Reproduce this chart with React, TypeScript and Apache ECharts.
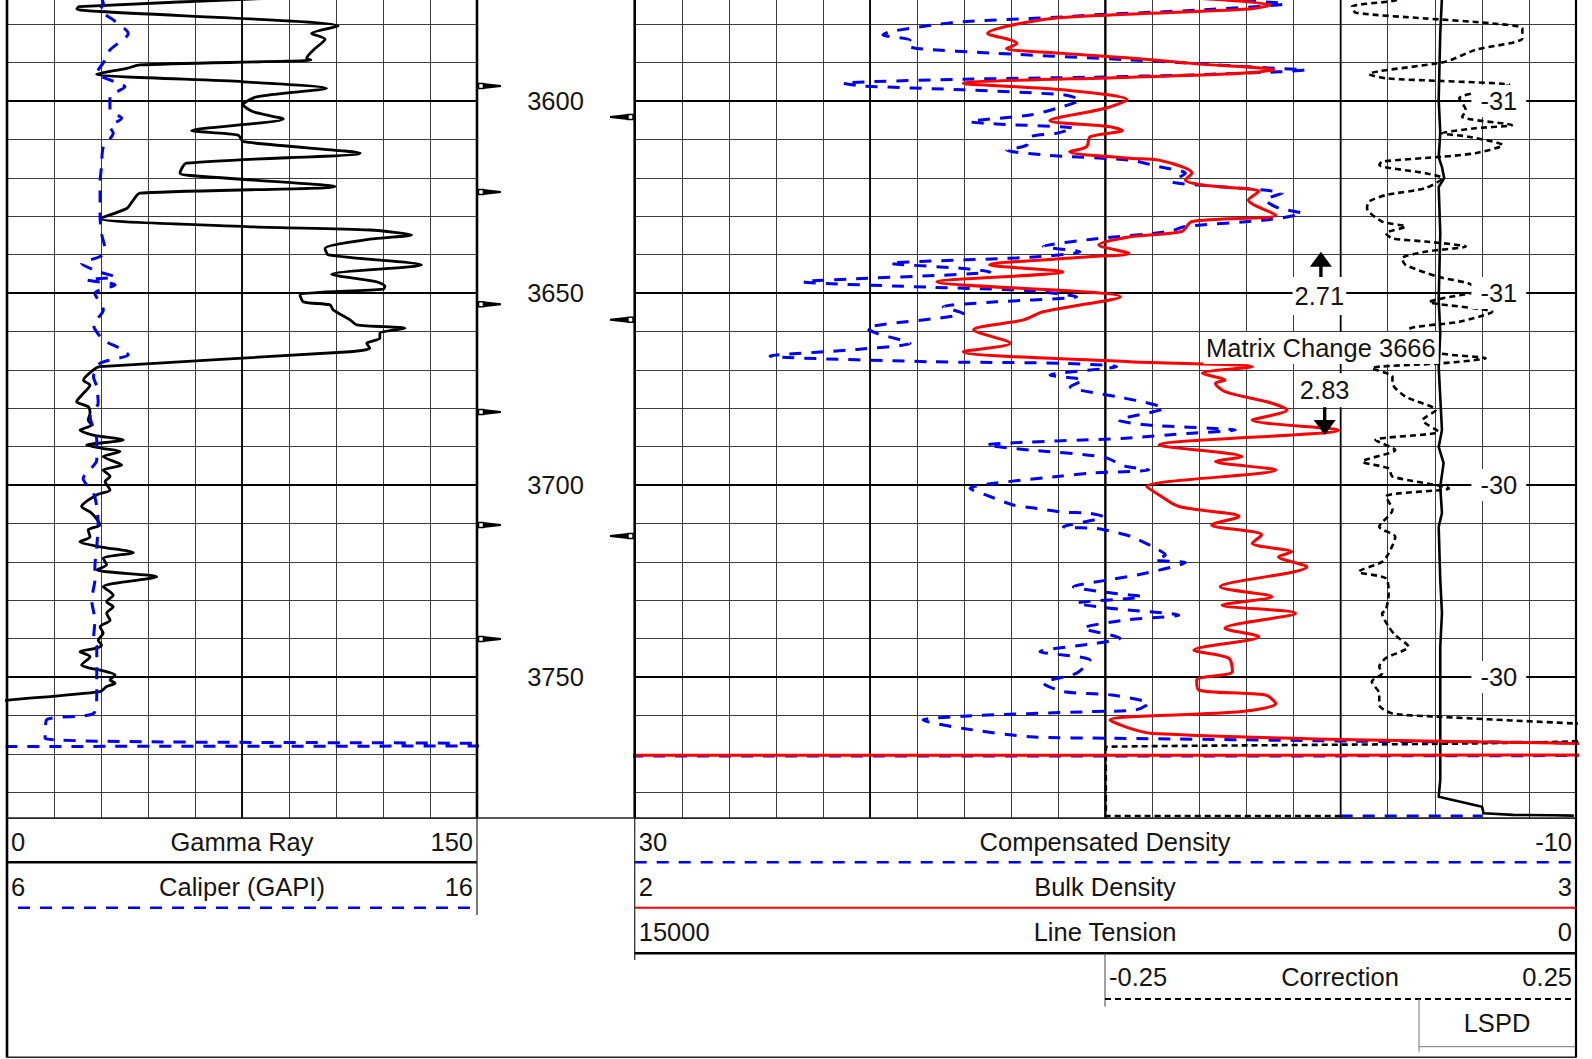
import React, { useEffect, useRef } from "react";
import * as echarts from "echarts";

// ---------- depth scale ----------
const depthMin = 3570;
const depthMax = 3786.72;
const depthStep = 10;
const depthMajor = [3600, 3650, 3700, 3750];
const depthLabels = ["3600", "3650", "3700", "3750"];
const leftTickDepths = [3596.1, 3623.7, 3652.9, 3681.0, 3710.4, 3740.1];
const rightTickDepths = [3604.2, 3657.0, 3713.3];

// ---------- curves: [depth, value] ----------
const gammaRay = [
  [3573.0, 92], [3575.4, 23], [3576.1, 22.3], [3576.7, 29.7], [3580.5, 105.7], [3582.4, 97.2], [3583.9, 101.5],
  [3586.7, 97.8], [3588.9, 95.6], [3589.3, 97], [3590.6, 42.4], [3591.5, 38.2], [3593.0, 28.6], [3595.0, 75.4],
  [3596.7, 102], [3598.9, 79.7], [3601.0, 75.4], [3602.8, 78.6], [3604.7, 88.2], [3607.7, 58.9], [3608.9, 73.8],
  [3610.6, 75.4], [3613.6, 112.7], [3616.2, 57.3], [3618.8, 55.2], [3619.4, 58.4], [3622.3, 104.7], [3624.0, 42.4],
  [3625.8, 40.3], [3628.0, 38.2], [3630.6, 29.7], [3632.7, 76.5], [3633.6, 115.8], [3634.9, 129.1], [3636.0, 115.8],
  [3638.4, 101.5], [3640.1, 102.6], [3642.7, 132.3], [3645.1, 103.6], [3647.1, 118], [3648.2, 120.6], [3649.0, 120.1],
  [3650.5, 93.5], [3652.3, 94.6], [3653.1, 103.1], [3654.4, 104.1], [3657.0, 109.5], [3658.3, 111.6], [3659.2, 127],
  [3660.5, 119], [3661.8, 119], [3663.1, 114.8], [3664.4, 115.8], [3665.3, 109.5], [3669.2, 29.7], [3670.1, 27.5],
  [3672.7, 24.4], [3674.0, 26.5], [3676.1, 24.4], [3678.3, 22.2], [3679.6, 25.9], [3681.3, 26.5], [3683.1, 25.9],
  [3684.4, 27], [3685.7, 23.3], [3687.0, 27.5], [3688.3, 37.1], [3689.6, 25.4], [3690.5, 30.7], [3691.3, 36.1],
  [3692.6, 30.7], [3694.8, 36.6], [3696.1, 30.7], [3697.8, 32.9], [3699.1, 31.3], [3701.3, 32.9], [3702.6, 28.6],
  [3705.6, 23.8], [3707.0, 26.5], [3708.3, 28.1], [3710.4, 29.7], [3711.7, 25.9], [3713.5, 26.5], [3714.8, 23.3],
  [3716.1, 29.7], [3717.6, 40.3], [3719.1, 30.7], [3720.8, 31.8], [3722.1, 28.6], [3723.9, 47.8], [3726.5, 30.7],
  [3728.7, 33.9], [3730.4, 31.8], [3731.7, 33.9], [3733.4, 31.8], [3735.2, 32.9], [3736.9, 29.7], [3738.6, 30.7],
  [3740.4, 29.1], [3741.7, 30.2], [3742.5, 28.6], [3743.4, 23.3], [3744.7, 26.5], [3746.9, 23.8], [3747.7, 26.5],
  [3748.2, 29.7], [3749.5, 34.5], [3750.8, 32.9], [3751.6, 34.5], [3752.5, 31.8], [3753.8, 29.7], [3756.0, 0.4],
  [3756.3, -3],
];

const caliper = [
  [3573.0, 8.0], [3574.6, 8.05], [3576.3, 7.98], [3578.9, 8.26], [3582.4, 8.58], [3586.7, 8.19], [3589.3, 8.09],
  [3592.8, 7.91], [3594.5, 8.19], [3596.3, 8.51], [3598.9, 8.19], [3602.3, 8.19], [3604.5, 8.44], [3606.7, 8.19],
  [3608.4, 8.26], [3611.9, 8.05], [3617.1, 8.01], [3621.4, 7.98], [3625.8, 7.98], [3630.1, 7.98], [3634.5, 8.01],
  [3638.8, 8.09], [3640.5, 7.98], [3642.3, 7.59], [3644.4, 7.94], [3645.8, 8.30], [3646.6, 7.70], [3647.9, 8.30],
  [3650.1, 7.87], [3654.4, 8.05], [3658.3, 7.84], [3662.2, 8.05], [3664.4, 8.40], [3666.1, 8.58], [3668.3, 7.98],
  [3671.8, 7.84], [3674.4, 7.91], [3678.7, 7.94], [3682.2, 7.77], [3688.3, 7.91], [3693.5, 7.91], [3698.3, 7.62],
  [3702.2, 7.84], [3705.6, 7.91], [3710.0, 7.94], [3716.1, 7.91], [3721.3, 7.87], [3724.7, 7.87], [3729.9, 7.80],
  [3735.2, 7.87], [3740.4, 7.84], [3742.1, 7.91], [3749.0, 7.91], [3754.3, 7.91], [3759.5, 7.84], [3761.2, 6.84],
  [3766.0, 6.81], [3767.3, 16.05], [3767.6, 17], [3767.9, 17], [3768.1, 6.06], [3768.2, 5],
];

const compDensity = [
  [3573.2, 5.98], [3574.7, 2.37], [3576.3, 5.98], [3577.6, 10.57], [3578.1, 11.8], [3579.35, 16.05], [3580.2, 17.32],
  [3581.95, 19.15], [3582.8, 19.45], [3584.1, 18.3], [3585.4, 18.44], [3586.3, 18.02], [3587.6, 14.62], [3589.3, 8.95],
  [3590.2, 6.32], [3591.5, 2.78], [3591.9, 1.5], [3592.4, 2.63], [3593.2, 6.32], [3593.8, 10.57], [3594.35, 16.04],
  [3595.4, 21.14], [3596.1, 20.29], [3597.1, 16.04], [3598.4, 11.79], [3599.7, 11.08], [3601.9, 12.07], [3603.65, 13.2],
  [3605.4, 15.75], [3606.0, 14.62], [3607.1, 11.36], [3608.4, 12.07], [3609.3, 13.2], [3611.5, 13.34], [3612.8, 14.19],
  [3614.1, 12.49], [3615.4, 8.95], [3617.1, 7.73], [3618.8, 6.6], [3621.0, 7.17], [3621.9, 6.03], [3624.0, 2.49],
  [3625.8, 3.2], [3627.9, 2.63], [3629.25, 1.64], [3631.0, 3.2], [3632.7, 6.6], [3634.0, 7.31], [3636.0, 10.57],
  [3637.9, 12.64], [3639.25, 11.08], [3640.7, 13.2], [3642.3, 19.15], [3643.6, 16.04], [3644.5, 14.9], [3647.1, 22.84],
  [3648.5, 17.45], [3649.4, 13.2], [3651.0, 11.22], [3652.3, 14.62], [3653.6, 16.89], [3655.3, 16.04], [3659.2, 20.14],
  [3660.5, 19.72], [3663.1, 18.3], [3664.7, 20.57], [3666.4, 24.25], [3667.9, 17.45], [3668.3, 11.79], [3669.2, 9.52],
  [3671.4, 12.35], [3672.7, 10.94], [3674.4, 11.5], [3677.0, 9.5], [3678.3, 8.44], [3680.0, 7.52], [3683.1, 9.43],
  [3684.4, 8.16], [3685.7, 4.48], [3686.5, 6.32], [3687.8, 9.15], [3689.6, 15.04], [3690.9, 13.2], [3692.7, 10.1],
  [3695.1, 9.16], [3696.1, 8.15], [3696.9, 10.57], [3697.7, 11.93], [3700.9, 15.75], [3703.0, 14.9], [3705.2, 13.92],
  [3706.1, 12.92], [3707.0, 11.93], [3707.4, 10.65], [3708.3, 10.09], [3710.9, 11.79], [3711.3, 10.37], [3712.2, 9.66],
  [3713.5, 8.87], [3716.9, 7.73], [3718.2, 7.45], [3719.5, 7.88], [3720.2, 6.6], [3723.0, 8.3], [3724.7, 9.86],
  [3726.5, 11.36], [3728.2, 9.66], [3729.1, 8.44], [3730.8, 11.22], [3732.1, 9.8], [3733.9, 6.88], [3735.2, 9.15],
  [3737.3, 10.94], [3739.9, 9.38], [3741.2, 10.37], [3743.4, 12.78], [3745.6, 10.65], [3749.0, 11.22], [3751.6, 12.64],
  [3753.8, 11.79], [3754.7, 9.72], [3756.9, 8.16], [3758.6, 8.73], [3759.0, 10.57], [3760.2, 16.04], [3761.2, 17.74],
  [3763.4, 16.04], [3765.55, 13.2], [3765.95, 9.66], [3766.7, -0.4], [3767.7, -11], [3770.4, -11], [3770.6, 31.5],
];
const compDensityEnd = [[3786.2, 0], [3786.2, -6]];

const bulkDensity = [
  [3573.0, 2.58], [3575.0, 2.675], [3576.04, 2.653], [3577.6, 2.505], [3578.9, 2.431], [3582.4, 2.375], [3584.1, 2.399],
  [3585.0, 2.406], [3586.3, 2.395], [3587.6, 2.455], [3588.8, 2.526], [3590.4, 2.601], [3591.9, 2.679], [3593.0, 2.627],
  [3593.8, 2.526], [3595.4, 2.349], [3597.1, 2.455], [3599.7, 2.523], [3601.9, 2.5], [3605.1, 2.441], [3606.7, 2.505],
  [3607.7, 2.518], [3609.3, 2.484], [3611.9, 2.48], [3613.2, 2.462], [3614.9, 2.526], [3615.4, 2.557], [3618.8, 2.592],
  [3620.6, 2.585], [3621.9, 2.603], [3623.6, 2.663], [3625.8, 2.652], [3629.7, 2.681], [3631.4, 2.592], [3634.0, 2.581],
  [3635.3, 2.528], [3637.5, 2.493], [3639.7, 2.525], [3640.5, 2.486], [3642.7, 2.377], [3644.5, 2.455], [3647.1, 2.321],
  [3651.0, 2.516], [3654.9, 2.434], [3657.0, 2.413], [3659.6, 2.36], [3663.1, 2.399], [3665.3, 2.349], [3667.9, 2.526],
  [3669.2, 2.656], [3670.9, 2.603], [3672.7, 2.627], [3673.5, 2.617], [3675.7, 2.627], [3678.7, 2.677], [3680.5, 2.693],
  [3683.1, 2.656], [3685.7, 2.748], [3689.6, 2.557], [3692.6, 2.645], [3693.9, 2.617], [3696.1, 2.681], [3700.4, 2.544],
  [3702.6, 2.557], [3705.6, 2.578], [3708.2, 2.642], [3710.4, 2.613], [3713.0, 2.666], [3715.2, 2.656], [3717.4, 2.698],
  [3718.7, 2.684], [3721.3, 2.714], [3726.5, 2.622], [3729.1, 2.677], [3731.3, 2.624], [3733.4, 2.702], [3737.3, 2.627],
  [3739.5, 2.663], [3743.0, 2.594], [3745.1, 2.631], [3748.6, 2.635], [3750.8, 2.597], [3753.4, 2.599], [3754.7, 2.67],
  [3756.9, 2.681], [3759.0, 2.645], [3761.2, 2.505], [3764.7, 2.55], [3767.3, 3.0], [3768.0, 3.3], [3770.3, 3.3],
  [3770.4, 1.5],
];

const lineTension = [
  [3573.0, 2136], [3582.3, 2163], [3599.7, 2188], [3608.3, 2163], [3614.6, 2188], [3617.2, 2136], [3620.1, 2100],
  [3622.4, 2188], [3634.4, 2163], [3651.8, 2188], [3660.4, 2163], [3669.3, 2188], [3685.7, 2136], [3690.1, 2188],
  [3694.3, 2110], [3700.5, 2163], [3707.3, 2136], [3710.9, 2188], [3724.7, 2163], [3733.3, 2136], [3742.2, 2163],
  [3759.4, 2163], [3768.2, 2163], [3776.8, 2163], [3781.2, 2188], [3783.8, 1498], [3785.5, 1471], [3785.9, 1000],
  [3786.0, 370], [3786.1, 50],
];

const correction = [
  [3573.0, 0.07], [3573.96, 0.055], [3575.45, 0.012], [3577.0, 0.016], [3578.5, 0.09], [3579.8, 0.161], [3581.1, 0.193],
  [3583.7, 0.193], [3586.7, 0.143], [3589.8, 0.111], [3593.0, 0.03], [3594.1, 0.048], [3594.8, 0.108], [3595.8, 0.179],
  [3597.5, 0.15], [3599.3, 0.126], [3602.35, 0.133], [3604.1, 0.129], [3606.3, 0.182], [3607.1, 0.143], [3608.4, 0.108],
  [3609.3, 0.136], [3611.5, 0.172], [3613.6, 0.143], [3614.5, 0.108], [3615.8, 0.044], [3616.7, 0.041], [3618.8, 0.09],
  [3620.1, 0.108], [3622.7, 0.09], [3624.5, 0.048], [3626.2, 0.03], [3627.9, 0.028], [3631.4, 0.044], [3632.7, 0.069],
  [3634.45, 0.048], [3635.8, 0.055], [3636.6, 0.09], [3637.9, 0.133], [3639.25, 0.09], [3641.0, 0.065], [3642.7, 0.069],
  [3645.8, 0.104], [3647.5, 0.136], [3649.2, 0.148], [3651.4, 0.108], [3652.3, 0.094], [3654.9, 0.161], [3657.5, 0.126],
  [3659.6, 0.072], [3664.0, 0.09], [3665.7, 0.104], [3667.0, 0.154], [3668.3, 0.108], [3669.6, 0.033], [3671.8, 0.055],
  [3673.5, 0.055], [3677.0, 0.069], [3680.5, 0.101], [3683.1, 0.087], [3686.1, 0.104], [3688.3, 0.037], [3690.9, 0.058],
  [3693.9, 0.023], [3695.7, 0.051], [3697.8, 0.055], [3700.9, 0.115], [3703.0, 0.048], [3706.5, 0.055], [3710.9, 0.041],
  [3713.5, 0.058], [3717.8, 0.051], [3720.0, 0.044], [3722.6, 0.019], [3724.3, 0.048], [3728.2, 0.051], [3732.6, 0.048],
  [3733.4, 0.044], [3736.9, 0.051], [3739.1, 0.058], [3742.1, 0.072], [3745.1, 0.048], [3747.3, 0.041], [3749.0, 0.044],
  [3751.2, 0.033], [3754.3, 0.041], [3757.3, 0.041], [3759.5, 0.055], [3760.3, 0.101], [3762.1, 0.249], [3762.25, 0.275],
  [3766.15, 0.275], [3768.15, -0.246], [3768.2, -0.2495], [3786.2, -0.2495], [3786.2, 0.0],
];

// LSPD readings printed on the log
const lspdDepths = [3600, 3650, 3700, 3750];
const lspdTexts = ["-31", "-31", "-30", "-30"];
const lspdCorrPos = 0.168;

// annotations (bulk density axis / depth)
const matrixNote = { text: "Matrix Change 3666", bd: 2.729, depth: 3664.3 };
const upArrow = { bd: 2.729, tail: 3647.1, tip: 3639.25, label: "2.71", labelDepth: 3650.8 };
const downArrow = { bd: 2.733, tail: 3679.2, tip: 3687.0, label: "2.83", labelDepth: 3675.3 };

// header texts
const grHeader = ["0", "Gamma Ray", "150"];
const calHeader = ["6", "Caliper (GAPI)", "16"];
const cdHeader = ["30", "Compensated Density", "-10"];
const bdHeader = ["2", "Bulk Density", "3"];
const ltHeader = ["15000", "Line Tension", "0"];
const corrHeader = ["-0.25", "Correction", "0.25"];
const lspdHeader = "LSPD";

// ---------- layout ----------
const FONT = '"Liberation Sans", Arial, Helvetica, sans-serif';
const FS = 25.5;
const TXT = "#151515";
const LX0 = 7, LX1 = 477, RX0 = 634.7, RX1 = 1576, MX = 1105;
const PLOT_TOP = -14.21, PLOT_BOTTOM = 818;
const BLUE = "#0000ff", RED = "#ff0000";

const xy = (arr: number[][]) => arr.map(([d, v]) => [v, d]);

const App = () => {
  const ref = useRef<HTMLDivElement>(null);
  useEffect(() => {
    if (!ref.current) return;
    const chart = echarts.init(ref.current, null, { renderer: "svg" });
    const hide = { axisLine: { show: false }, axisTick: { show: false }, axisLabel: { show: false } };
    const thin = { show: true, lineStyle: { color: "#3c3c3c", width: 1 } };
    const noSplit = { show: false };
    const depthAxis = (gi: number) => ({
      gridIndex: gi, type: "value", min: depthMin, max: depthMax, interval: depthStep, inverse: true,
      splitLine: thin, ...hide,
    });
    const lineS = (name: string, xi: number, yi: number, data: number[][], style: any, z = 3, smooth: any = false) => ({
      name, type: "line", xAxisIndex: xi, yAxisIndex: yi, data: xy(data), symbol: "none", showSymbol: false,
      clip: true, z, smooth, lineStyle: { cap: "round", join: "round", ...style }, emphasis: { disabled: true }, silent: true,
    });
    chart.setOption({
      animation: false,
      backgroundColor: "#fff",
      grid: [
        { left: LX0, top: PLOT_TOP, width: LX1 - LX0, height: PLOT_BOTTOM - PLOT_TOP, containLabel: false, outerBoundsMode: "none" },
        { left: RX0, top: PLOT_TOP, width: RX1 - RX0, height: PLOT_BOTTOM - PLOT_TOP, containLabel: false, outerBoundsMode: "none" },
      ],
      xAxis: [
        { gridIndex: 0, type: "value", min: 0, max: 150, interval: 15, splitLine: thin, ...hide },
        { gridIndex: 0, type: "value", min: 6, max: 16, splitLine: noSplit, ...hide },
        { gridIndex: 1, type: "value", min: -10, max: 30, interval: 2, inverse: true, splitLine: thin, ...hide },
        { gridIndex: 1, type: "value", min: 2, max: 3, splitLine: noSplit, ...hide },
        { gridIndex: 1, type: "value", min: 0, max: 15000, inverse: true, splitLine: noSplit, ...hide },
        { gridIndex: 1, type: "value", min: -0.75, max: 0.25, splitLine: noSplit, ...hide },
      ],
      yAxis: [depthAxis(0), depthAxis(1)],
      series: [
        lineS("Gamma Ray", 0, 0, gammaRay, { color: "#000", width: 2.8 }, 3, 0.25),
        lineS("Caliper", 1, 0, caliper, { color: BLUE, width: 3, type: [12, 10], cap: "butt" }, 3, 0.25),
        lineS("Compensated Density", 2, 1, compDensity, { color: BLUE, width: 3, type: [12, 10], cap: "butt" }, 3, 0.25),
        lineS("Compensated Density end", 2, 1, compDensityEnd, { color: BLUE, width: 3, type: [12, 10], cap: "butt" }),
        lineS("Bulk Density", 3, 1, bulkDensity, { color: RED, width: 3 }, 4, 0.3),
        lineS("Correction", 5, 1, correction, { color: "#000", width: 2.6, type: [6, 4], cap: "butt" }, 3, 0.25),
        lineS("Line Tension", 4, 1, lineTension, { color: "#000", width: 2.6 }),
      ],
    });

    const yPx = (d: number) => chart.convertToPixel({ yAxisIndex: 0 }, d) as number;
    const xPx = (ai: number, v: number) => chart.convertToPixel({ xAxisIndex: ai }, v) as number;
    const g: any[] = [];
    const line = (x1: number, y1: number, x2: number, y2: number, stroke: string, lineWidth: number, z = 1, lineDash?: number[]) =>
      g.push({ type: "line", silent: true, z, shape: { x1, y1, x2, y2 }, style: { stroke, lineWidth, lineDash } });
    const text = (t: string, x: number, y: number, align: string, z = 6, extra: any = {}) =>
      g.push({
        type: "text", silent: true, z, x, y,
        style: { text: t, fill: TXT, fontSize: FS, fontFamily: FONT, textAlign: align, textVerticalAlign: "middle", align, verticalAlign: "middle", ...extra },
      });

    // heavy depth lines every 50
    depthMajor.forEach((d) => {
      const y = yPx(d);
      line(LX0, y, LX1, y, "#000", 2);
      line(RX0, y, RX1, y, "#000", 2);
    });
    // medium / heavy vertical grid lines
    line(xPx(0, 75), 0, xPx(0, 75), PLOT_BOTTOM, "#000", 1.8);
    [20, 0].forEach((v) => line(xPx(2, v), 0, xPx(2, v), PLOT_BOTTOM, "#000", 1.8));
    line(xPx(2, 10), 0, xPx(2, 10), PLOT_BOTTOM, "#000", 2.4);

    // track borders / frame
    line(LX0, 0, LX0, 1057.5, "#000", 2.6, 7);
    line(LX1, 0, LX1, PLOT_BOTTOM, "#000", 2.6, 7);
    line(RX0, 0, RX0, PLOT_BOTTOM, "#000", 2.6, 7);
    line(RX1, 0, RX1, 1057.5, "#000", 2.2, 7);
    line(LX0, PLOT_BOTTOM, RX1, PLOT_BOTTOM, "#222", 1.4, 7);
    line(LX0, 1057.3, RX1, 1057.3, "#222", 1.6, 7);

    // depth labels
    depthMajor.forEach((d, i) => text(depthLabels[i], 555.5, yPx(d), "center", 5));
    // depth ticks
    leftTickDepths.forEach((d) => {
      const y = yPx(d);
      g.push({ type: "polygon", silent: true, z: 5, shape: { points: [[483, y - 3], [501, y - 1], [501, y + 1], [483, y + 3]] }, style: { fill: "#000" } });
      g.push({ type: "rect", silent: true, z: 6, shape: { x: 478.5, y: y - 2.5, width: 5, height: 5 }, style: { fill: "#fff", stroke: "#000", lineWidth: 1.5 } });
    });
    rightTickDepths.forEach((d) => {
      const y = yPx(d);
      g.push({ type: "polygon", silent: true, z: 5, shape: { points: [[610, y - 1], [628, y - 3], [628, y + 3], [610, y + 1]] }, style: { fill: "#000" } });
      g.push({ type: "rect", silent: true, z: 6, shape: { x: 628, y: y - 2.5, width: 5, height: 5 }, style: { fill: "#fff", stroke: "#000", lineWidth: 1.5 } });
    });

    // LSPD readings
    lspdDepths.forEach((d, i) =>
      text(lspdTexts[i], xPx(5, lspdCorrPos), yPx(d), "center", 10, { backgroundColor: "#fff", padding: [3, 9] })
    );

    // annotations
    text(matrixNote.text, xPx(3, matrixNote.bd), yPx(matrixNote.depth), "center", 10, { backgroundColor: "#fff", padding: [3, 3] });
    {
      const x = xPx(3, upArrow.bd), yt = yPx(upArrow.tip), yb = yPx(upArrow.tail);
      line(x, yb, x, yt + 12, "#000", 3.4, 10);
      g.push({ type: "polygon", silent: true, z: 10, shape: { points: [[x - 11, yt + 15], [x + 11, yt + 15], [x, yt]] }, style: { fill: "#000" } });
      text(upArrow.label, x - 1.5, yPx(upArrow.labelDepth), "center", 10, { backgroundColor: "#fff", padding: [6, 2] });
    }
    {
      const x = xPx(3, downArrow.bd), yt = yPx(downArrow.tip), yb = yPx(downArrow.tail);
      line(x, yb, x, yt - 12, "#000", 3.4, 10);
      g.push({ type: "polygon", silent: true, z: 10, shape: { points: [[x - 11, yt - 15], [x + 11, yt - 15], [x, yt]] }, style: { fill: "#000" } });
      text(downArrow.label, x, yPx(downArrow.labelDepth), "center", 10, { backgroundColor: "#fff", padding: [4, 2] });
    }

    // ---------- headers ----------
    const row = (labels: string[], x0: number, x1: number, y: number, cx?: number) => {
      text(labels[0], x0 + 4, y, "left");
      text(labels[1], cx ?? (x0 + x1) / 2, y, "center");
      text(labels[2], x1 - 4, y, "right");
    };
    row(grHeader, LX0, LX1, 841.5, 242);
    row(calHeader, LX0, LX1, 887, 242);
    row(cdHeader, RX0, RX1, 841.5, 1105);
    row(bdHeader, RX0, RX1, 887, 1105);
    row(ltHeader, RX0, RX1, 932, 1105);
    row(corrHeader, MX, RX1, 977, 1340);
    text(lspdHeader, 1497, 1022.5, "center");

    line(LX0, 862.3, LX1, 862.3, "#000", 2.6);
    line(18, 907.7, LX1, 907.7, BLUE, 2.6, 1, [12, 10]);
    line(LX1, PLOT_BOTTOM, LX1, 915, "#333", 1.3);
    line(RX0, PLOT_BOTTOM, RX0, 960, "#333", 1.3);
    line(RX0, 862.3, RX1, 862.3, BLUE, 2.6, 1, [12, 10]);
    line(RX0, 907.7, RX1, 907.7, RED, 2, 1);
    line(RX0, 953.3, RX1, 953.3, "#000", 2.6);
    line(MX, 953.3, MX, 1006.7, "#444", 1);
    line(MX, 999, RX1, 999, "#000", 2.2, 1, [6, 4]);
    line(1419, 999, 1419, 1051.7, "#777", 1);
    line(1419, 1046.7, RX1, 1046.7, "#777", 1);

    chart.setOption({ graphic: { elements: g } });
    return () => chart.dispose();
  }, []);
  return (
    <div
      ref={ref}
      style={{ position: "fixed", left: 0, top: 0, width: 1592, height: 1059, background: "#fff" }}
    />
  );
};

export default App;
